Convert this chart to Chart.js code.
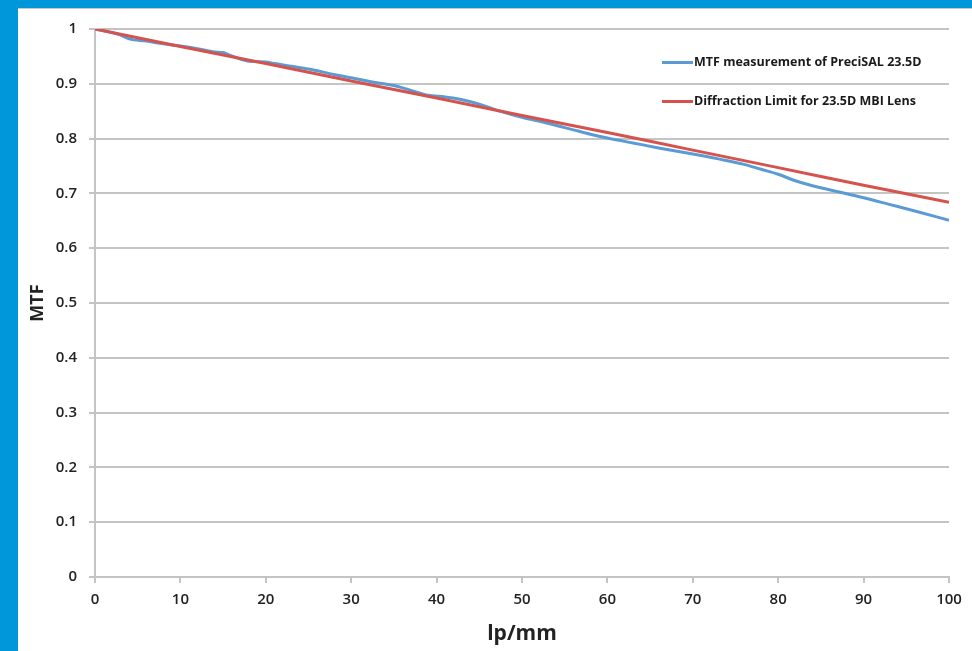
<!DOCTYPE html>
<html><head><meta charset="utf-8">
<script src="https://cdn.jsdelivr.net/npm/chart.js@4.4.1/dist/chart.umd.min.js"></script>
<style>
html,body{margin:0;padding:0;width:972px;height:651px;overflow:hidden;background:#0096da;}
#panel{position:absolute;left:18px;top:8px;width:954px;height:643px;background:#fff;border-top:1px solid #c9c9c9;box-sizing:border-box;}
#wrap{position:absolute;left:0;top:0;width:972px;height:651px;}
</style></head>
<body>
<div id="panel"></div>
<div id="wrap"><canvas id="c" width="972" height="651"></canvas></div>
<script>
const seriesNames = ['MTF measurement of PreciSAL 23.5D', 'Diffraction Limit for 23.5D MBI Lens'];
const xTitle = 'lp/mm';
const yTitle = 'MTF';

const measX = [0, 3, 4, 6, 8, 10, 12, 14, 15, 16, 18, 20, 21, 23, 25, 28, 30, 33, 35, 37, 39, 41, 43, 45, 47, 50, 53, 56, 58, 60, 63, 66, 70, 73, 76, 78, 80, 82, 84, 87, 90, 93, 96, 100];
const measY = [1.0, 0.989, 0.982, 0.978, 0.973, 0.969, 0.964, 0.958, 0.957, 0.951, 0.941, 0.940, 0.937, 0.932, 0.927, 0.917, 0.911, 0.902, 0.897, 0.888, 0.879, 0.876, 0.871, 0.863, 0.852, 0.839, 0.828, 0.816, 0.808, 0.801, 0.792, 0.783, 0.772, 0.763, 0.753, 0.744, 0.735, 0.723, 0.714, 0.703, 0.692, 0.680, 0.668, 0.651];

const limitX = [0, 10, 20, 30, 40, 50, 60, 70, 80, 90, 100];
const limitY = [1.0, 0.968, 0.937, 0.905, 0.874, 0.842, 0.811, 0.779, 0.747, 0.715, 0.684];

const colors = ['#5b9bd5', '#d6534d'];

const legendPlugin = {
  id: 'insideLegend',
  afterDraw(chart) {
    const ctx = chart.ctx;
    const ds = chart.data.datasets;
    const x0 = 662, lineLen = 31;
    const ys = [62.5, 101.5];
    ctx.save();
    ds.forEach((d, i) => {
      ctx.strokeStyle = d.borderColor;
      ctx.lineWidth = 3;
      ctx.beginPath();
      ctx.moveTo(x0, ys[i]);
      ctx.lineTo(x0 + lineLen, ys[i]);
      ctx.stroke();
      ctx.fillStyle = '#1a1a1a';
      ctx.font = 'bold 12.5px "Open Sans", sans-serif';
      ctx.textBaseline = 'middle';
      ctx.textAlign = 'left';
      ctx.fillText(d.label, x0 + lineLen + 1, ys[i]);
    });
    ctx.restore();
  }
};

new Chart(document.getElementById('c'), {
  type: 'line',
  data: {
    datasets: [
      { label: seriesNames[0], data: measX.map((x, i) => ({x, y: measY[i]})), borderColor: colors[0], backgroundColor: colors[0], borderWidth: 3, pointRadius: 0, cubicInterpolationMode: 'monotone', order: 1 },
      { label: seriesNames[1], data: limitX.map((x, i) => ({x, y: limitY[i]})), borderColor: colors[1], backgroundColor: colors[1], borderWidth: 3, pointRadius: 0, tension: 0.3, order: 0 }
    ]
  },
  options: {
    responsive: false,
    animation: false,
    layout: { padding: { left: 0, top: 29, right: 23, bottom: 0 } },
    plugins: { legend: { display: false }, tooltip: { enabled: false } },
    scales: {
      x: {
        type: 'linear', min: 0, max: 100,
        afterFit: s => { s.height = 74; },
        ticks: { stepSize: 10, padding: 8, color: '#222', font: { family: 'Open Sans', size: 15, weight: '600' } },
        grid: { drawOnChartArea: false, drawTicks: true, tickLength: 6, color: '#c4c4c4', lineWidth: 2 },
        border: { display: true, color: '#c4c4c4', width: 2 },
        title: { display: true, text: xTitle, color: '#222', font: { family: 'Open Sans', size: 21, weight: 'bold' }, padding: { top: 0, bottom: 4 } }
      },
      y: {
        min: 0, max: 1,
        afterFit: s => { s.width = 95; },
        ticks: { stepSize: 0.1, padding: 12, color: '#222', font: { family: 'Open Sans', size: 15, weight: '600' }, callback: v => String(Math.round(v * 10) / 10) },
        grid: { color: '#c4c4c4', lineWidth: 2, tickLength: 6 },
        border: { display: true, color: '#c4c4c4', width: 2 },
        title: { display: true, text: yTitle, color: '#222', font: { family: 'Open Sans', size: 18, weight: 'bold' }, padding: { top: 27, bottom: 0 } }
      }
    }
  },
  plugins: [legendPlugin]
});
</script>
</body></html>
